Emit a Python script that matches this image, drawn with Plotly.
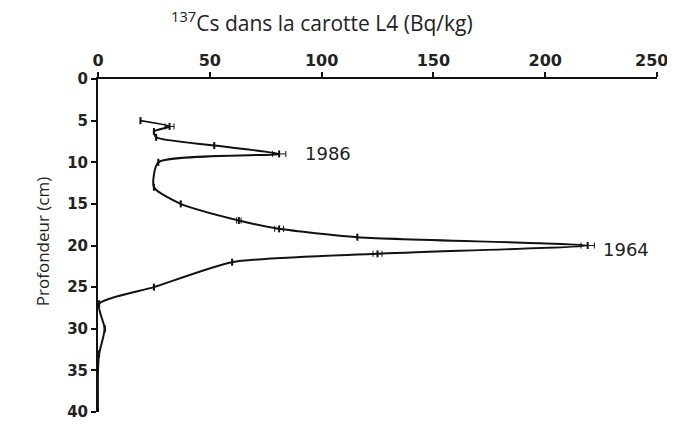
import plotly.graph_objects as go

depth = [5, 5.7, 6.3, 7, 8, 9, 10, 13, 15, 17, 18, 19, 20, 21, 22, 25, 27, 30, 33, 35, 40]
cs137 = [19, 32, 25, 26, 52, 81, 27, 25, 37, 63, 81, 116, 219, 125, 60, 25, 0.5, 3, 0.5, 0, 0]
err = [0, 2, 0, 0, 0, 3, 0, 0, 0, 1, 2, 0, 3, 2, 0, 0, 0, 0, 0, 0, 0]

x_ticks = [0, 50, 100, 150, 200, 250]
x_labels = ["0", "50", "100", "150", "200", ""]
y_ticks = [0, 5, 10, 15, 20, 25, 30, 35, 40]

fig = go.Figure()
fig.add_trace(go.Scatter(
    x=cs137, y=depth, mode="lines+markers",
    line=dict(color="#111111", width=2, shape="spline", smoothing=0.6),
    marker=dict(symbol="line-ns", size=5, color="#111111", line=dict(width=2, color="#111111")),
    error_x=dict(type="data", array=err, visible=True, color="#111111", thickness=1, width=3),
    showlegend=False,
))

fig.add_annotation(x=91.5, y=9.0, text="1986", showarrow=False, xanchor="left", yanchor="middle",
                   font=dict(family="DejaVu Sans", size=18, color="#222222"))
fig.add_annotation(x=225, y=20.5, text="1964", showarrow=False, xanchor="left", yanchor="middle",
                   font=dict(family="DejaVu Sans", size=18, color="#222222"))
# last x tick label, kept inside the page like the reference
fig.add_annotation(x=250, y=1, yref="paper", xanchor="center", yanchor="middle", xshift=-6, yshift=19,
                   text=str(x_ticks[-1]), showarrow=False,
                   font=dict(family="DejaVu Sans", size=16, color="#222222", weight="bold"))
fig.add_annotation(x=0.4007, y=1, xref="paper", yref="paper", yshift=58,
                   yanchor="middle", xanchor="center",
                   text="<sup>137</sup>Cs dans la carotte L4 (Bq/kg)", showarrow=False,
                   font=dict(family="Open Sans", size=21, color="#222222"))
fig.add_annotation(x=-0.1002, y=0.513, xref="paper", yref="paper", textangle=-90,
                   xanchor="center", yanchor="middle",
                   text="Profondeur (cm)", showarrow=False,
                   font=dict(family="Open Sans", size=17, color="#222222"))

fig.update_layout(
    width=659, height=414,
    margin=dict(l=90, r=10, t=71, b=10),
    paper_bgcolor="white", plot_bgcolor="white",
    font=dict(family="DejaVu Sans", color="#111111"),
    xaxis=dict(side="top", range=[0, 250], tickvals=x_ticks, ticktext=x_labels,
               showgrid=False, zeroline=False, automargin=False,
               showline=True, linecolor="#111111", linewidth=2, ticks="outside", ticklen=5,
               tickwidth=2, tickcolor="#111111", ticklabeloverflow="allow",
               tickfont=dict(family="DejaVu Sans", size=16, color="#222222", weight="bold")),
    yaxis=dict(range=[40, 0], tickvals=y_ticks, showgrid=False, zeroline=False,
               automargin=False,
               showline=True, linecolor="#111111", linewidth=2, ticks="outside", ticklen=5,
               tickwidth=2, tickcolor="#111111", ticklabeloverflow="allow",
               tickfont=dict(family="DejaVu Sans", size=15, color="#222222", weight="bold")),
)

fig.write_html("out.html")
